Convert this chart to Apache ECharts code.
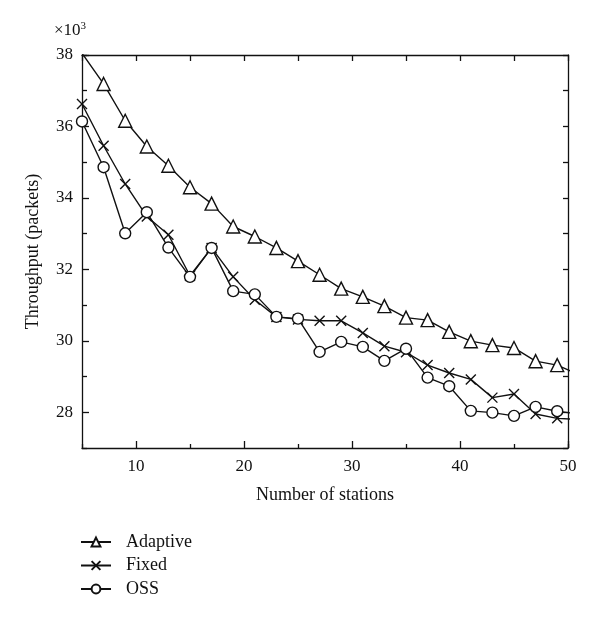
<!DOCTYPE html>
<html>
<head>
<meta charset="utf-8">
<script src="https://cdn.jsdelivr.net/npm/echarts@6/dist/echarts.min.js"></script>
<style>
  html, body { margin: 0; padding: 0; background: #fff; }
  #chart { width: 600px; height: 617px; }
</style>
</head>
<body>
<div id="chart"></div>
<script>
// number of stations (x = 51 lies just past the frame, the lines run out to the edge)
const stations = [5, 7, 9, 11, 13, 15, 17, 19, 21, 23, 25, 27, 29, 31, 33, 35, 37, 39, 41, 43, 45, 47, 49, 51];
// throughput, x10^3 packets
const adaptive = [38.05, 37.19, 36.16, 35.44, 34.9, 34.3, 33.84, 33.2, 32.92, 32.6, 32.23, 31.85,
  31.46, 31.23, 30.97, 30.65, 30.58, 30.25, 29.99, 29.88, 29.8, 29.43, 29.32, 29.05];
const fixed = [36.63, 35.46, 34.39, 33.48, 32.97, 31.82, 32.6, 31.79, 31.15, 30.67, 30.6, 30.56,
  30.56, 30.22, 29.85, 29.68, 29.32, 29.1, 28.92, 28.41, 28.51, 27.95, 27.83, 27.8];
const oss = [36.14, 34.86, 33.01, 33.6, 32.61, 31.79, 32.6, 31.39, 31.3, 30.67, 30.62, 29.69,
  29.97, 29.83, 29.44, 29.78, 28.97, 28.73, 28.04, 27.99, 27.9, 28.15, 28.03, 27.95];
const seriesNames = ['Adaptive', 'Fixed', 'OSS'];

const FONT = 'Liberation Serif';
const INK = '#111';

const chart = echarts.init(document.getElementById('chart'), null, { renderer: 'canvas' });

function pairs(vals) {
  return stations.map((x, i) => [x, vals[i]]);
}

function lineSeries(name, vals, symbol, size) {
  return {
    name: name,
    type: 'line',
    data: pairs(vals),
    xAxisIndex: 0,
    yAxisIndex: 0,
    clip: true,
    symbol: symbol,
    symbolSize: size,
    showAllSymbol: true,
    lineStyle: { color: INK, width: 1.4 },
    itemStyle: { color: '#fff', borderColor: INK, borderWidth: 1.4 },
    emphasis: { disabled: true }
  };
}

const xBase = { type: 'value', min: 5, max: 50, splitLine: { show: false } };
const yBase = { type: 'value', min: 27, max: 38, splitLine: { show: false } };
const noLabel = { show: false };

const option = {
  animation: false,
  backgroundColor: '#fff',
  grid: { left: 82, right: 32, top: 55, bottom: 169 },
  xAxis: [
    Object.assign({}, xBase, {
      position: 'bottom',
      splitNumber: 5,
      name: 'Number of stations',
      nameLocation: 'middle',
      nameGap: 38,
      nameTextStyle: { fontFamily: FONT, fontSize: 18, color: INK },
      axisLine: { lineStyle: { color: INK, width: 1.3 } },
      axisTick: { inside: true, length: 7, lineStyle: { color: INK, width: 1.3 } },
      axisLabel: { showMinLabel: false, fontFamily: FONT, fontSize: 17, color: INK, margin: 10 }
    }),
    // minor ticks at 5, 15, 25 ...
    Object.assign({}, xBase, {
      position: 'bottom',
      interval: 10,
      axisLine: { show: false },
      axisTick: { inside: true, length: 4, lineStyle: { color: INK, width: 1.3 } },
      axisLabel: noLabel
    }),
    Object.assign({}, xBase, {
      position: 'top',
      interval: 5,
      axisLine: { lineStyle: { color: INK, width: 1.3 } },
      axisTick: { inside: true, length: 6, lineStyle: { color: INK, width: 1.3 } },
      axisLabel: noLabel
    })
  ],
  yAxis: [
    Object.assign({}, yBase, {
      position: 'left',
      splitNumber: 5,
      name: 'Throughput (packets)',
      nameLocation: 'middle',
      nameGap: 40,
      nameTextStyle: { fontFamily: FONT, fontSize: 18, color: INK },
      axisLine: { lineStyle: { color: INK, width: 1.3 } },
      axisTick: { inside: true, length: 7, lineStyle: { color: INK, width: 1.3 } },
      axisLabel: { showMinLabel: false, fontFamily: FONT, fontSize: 17, color: INK, margin: 9 }
    }),
    // minor ticks at 27, 29, 31 ...
    Object.assign({}, yBase, {
      position: 'left',
      interval: 2,
      axisLine: { show: false },
      axisTick: { inside: true, length: 5, lineStyle: { color: INK, width: 1.3 } },
      axisLabel: noLabel
    }),
    Object.assign({}, yBase, {
      position: 'right',
      interval: 1,
      axisLine: { lineStyle: { color: INK, width: 1.3 } },
      axisTick: { inside: true, length: 5, lineStyle: { color: INK, width: 1.3 } },
      axisLabel: noLabel
    })
  ],
  legend: {
    orient: 'vertical',
    left: 75,
    top: 528,
    itemWidth: 30,
    itemHeight: 11,
    itemGap: 5.5,
    data: seriesNames,
    textStyle: { fontFamily: FONT, fontSize: 18, color: INK, padding: [0, 0, 0, 10] }
  },
  graphic: [
    {
      type: 'text',
      left: 54,
      top: 21,
      style: {
        text: '{a|×10}{s|3}',
        rich: {
          a: { fontFamily: FONT, fontSize: 17, fill: INK },
          s: { fontFamily: FONT, fontSize: 11, fill: INK, padding: [0, 0, 9, 0] }
        }
      }
    }
  ],
  series: [
    lineSeries(seriesNames[0], adaptive, 'triangle', 13),
    lineSeries(seriesNames[1], fixed, 'path://M0,0L10,10M10,0L0,10', 10),
    lineSeries(seriesNames[2], oss, 'circle', 11)
  ]
};

chart.setOption(option);
</script>
</body>
</html>
